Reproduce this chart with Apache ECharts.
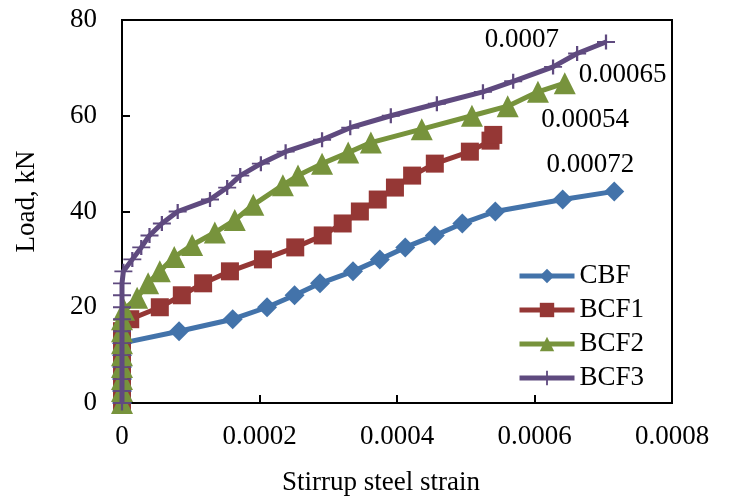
<!DOCTYPE html>
<html>
<head>
<meta charset="utf-8">
<script src="https://cdn.jsdelivr.net/npm/echarts@6/dist/echarts.min.js"></script>
<style>
html,body{margin:0;padding:0;background:#fff;}
#chart{width:732px;height:504px;}
</style>
</head>
<body>
<div id="chart"></div>
<script>
// ---- data ----
const seriesNames = ['CBF', 'BCF1', 'BCF2', 'BCF3'];

const cbfStrain = [0, 0, 0, 0, 0, 0, 0.000083, 0.000161, 0.000211, 0.000251, 0.000288, 0.000336, 0.000375, 0.000412, 0.000455, 0.000495, 0.000543, 0.000641, 0.000716];
const cbfLoad   = [0, 2.5, 5, 7.5, 10, 12.5, 15, 17.5, 20, 22.5, 25, 27.5, 30, 32.5, 35, 37.5, 40, 42.5, 44.2];

const bcf1Strain = [0, 0, 0, 0, 0, 0, 0, 0.000012, 0.000055, 0.000087, 0.000118, 0.000157, 0.000205, 0.000252, 0.000292, 0.000321, 0.000346, 0.000372, 0.000397, 0.000422, 0.000455, 0.000506, 0.000536, 0.00054];
const bcf1Load   = [0, 2.5, 5, 7.5, 10, 12.5, 15, 17.5, 20, 22.5, 25, 27.5, 30, 32.5, 35, 37.5, 40, 42.5, 45, 47.5, 50, 52.5, 54.8, 56];

const bcf2Strain = [0, 0, 0, 0, 0, 0, 0, 0, 0.000003, 0.000022, 0.000038, 0.000055, 0.000076, 0.000102, 0.000135, 0.000164, 0.000191, 0.000234, 0.000256, 0.000291, 0.000329, 0.000362, 0.000436, 0.000509, 0.000561, 0.000605, 0.000644];
const bcf2Load   = [0, 2.5, 5, 7.5, 10, 12.5, 15, 17.5, 19.5, 22, 25, 27.5, 30.5, 33, 35.6, 38.2, 41.4, 45.5, 47.5, 50, 52.3, 54.4, 57.2, 60, 62, 65, 66.8];

const bcf3Strain = [0, 0, 0, 0, 0, 0, 0, 0, 0, 0, 0, 0.000002, 0.000015, 0.000028, 0.00004, 0.000058, 0.000081, 0.000128, 0.000153, 0.000172, 0.000202, 0.000238, 0.000291, 0.000332, 0.000391, 0.000458, 0.000525, 0.000569, 0.000627, 0.000662, 0.000704];
const bcf3Load   = [0, 2.5, 5, 7.5, 10, 12.5, 15, 17.5, 20, 22.5, 25, 27.5, 30, 32.5, 35, 37.5, 40, 42.5, 45, 47.5, 50, 52.5, 55, 57.5, 60, 62.5, 65, 67.2, 70.2, 73, 75.4];

const endLabels = ['0.00072', '0.00054', '0.00065', '0.0007'];
const xTickLabels = ['0', '0.0002', '0.0004', '0.0006', '0.0008'];
const yTickLabels = ['0', '20', '40', '60', '80'];

// ---- styles ----
const FONT = "'Liberation Serif', 'Times New Roman', serif";
const FS = 27;
const colors = ['#4373AA', '#953735', '#77933C', '#5F4A7F'];
const plusPath = 'path://M7,0H9V7H16V9H9V16H7V9H0V7H7Z';
const symbols = ['diamond', 'rect', 'triangle', plusPath];
const symbolSizes = [20, 18, 22, [18, 15]];
const labelPos = [
  {position: 'top', offset: [-24, 2]},
  {position: 'right', offset: [34, -15]},
  {position: 'right', offset: [-2, -8]},
  {position: 'left', offset: [-33, -2]}
];

const strains = [cbfStrain, bcf1Strain, bcf2Strain, bcf3Strain];
const loads = [cbfLoad, bcf1Load, bcf2Load, bcf3Load];

const series = seriesNames.map((name, i) => {
  const xs = strains[i], ys = loads[i];
  const data = xs.map((x, k) => {
    if (k === xs.length - 1) {
      return {
        value: [x, ys[k]],
        label: {
          show: true,
          formatter: endLabels[i],
          position: labelPos[i].position,
          offset: labelPos[i].offset,
          color: '#000',
          fontFamily: FONT,
          fontSize: FS
        }
      };
    }
    return [x, ys[k]];
  });
  return {
    name: name,
    type: 'line',
    data: data,
    symbol: symbols[i],
    symbolSize: symbolSizes[i],
    showAllSymbol: true,
    clip: false,
    lineStyle: {color: colors[i], width: 5},
    itemStyle: {color: colors[i]},
    emphasis: {disabled: true},
    animation: false,
    z: 2 + i
  };
});

const chart = echarts.init(document.getElementById('chart'), null, {renderer: 'canvas'});
chart.setOption({
  animation: false,
  backgroundColor: '#fff',
  grid: {
    left: 122, right: 60, top: 20, bottom: 101,
    show: true, borderColor: '#000', borderWidth: 2, backgroundColor: 'transparent'
  },
  legend: {
    data: seriesNames,
    orient: 'vertical',
    left: 512,
    top: 257,
    itemWidth: 55,
    itemHeight: 18,
    itemGap: 6,
    lineStyle: {width: 5},
    textStyle: {fontFamily: FONT, fontSize: FS, color: '#000', lineHeight: 28}
  },
  xAxis: {
    type: 'value',
    min: 0, max: 0.0008, interval: 0.0002,
    name: 'Stirrup steel strain',
    nameLocation: 'middle',
    nameGap: 66,
    nameTextStyle: {fontFamily: FONT, fontSize: FS, color: '#000', padding: [0, 32, 0, 0]},
    axisLine: {show: true, onZero: false, lineStyle: {color: '#000', width: 2}},
    axisTick: {show: true, inside: true, length: 8, lineStyle: {color: '#000', width: 2}},
    axisLabel: {
      fontFamily: FONT, fontSize: FS, color: '#000', margin: 20,
      formatter: v => xTickLabels[Math.round(v / 0.0002)]
    },
    splitLine: {show: false}
  },
  yAxis: {
    type: 'value',
    min: 0, max: 80, interval: 20,
    name: 'Load, kN',
    nameLocation: 'middle',
    nameGap: 82,
    nameTextStyle: {fontFamily: FONT, fontSize: FS, color: '#000', padding: [0, 0, 0, 20]},
    axisLine: {show: true, onZero: false, lineStyle: {color: '#000', width: 2}},
    axisTick: {show: true, inside: true, length: 8, lineStyle: {color: '#000', width: 2}},
    axisLabel: {
      fontFamily: FONT, fontSize: FS, color: '#000', margin: 25,
      formatter: v => yTickLabels[Math.round(v / 20)]
    },
    splitLine: {show: false}
  },
  series: series
});
</script>
</body>
</html>
